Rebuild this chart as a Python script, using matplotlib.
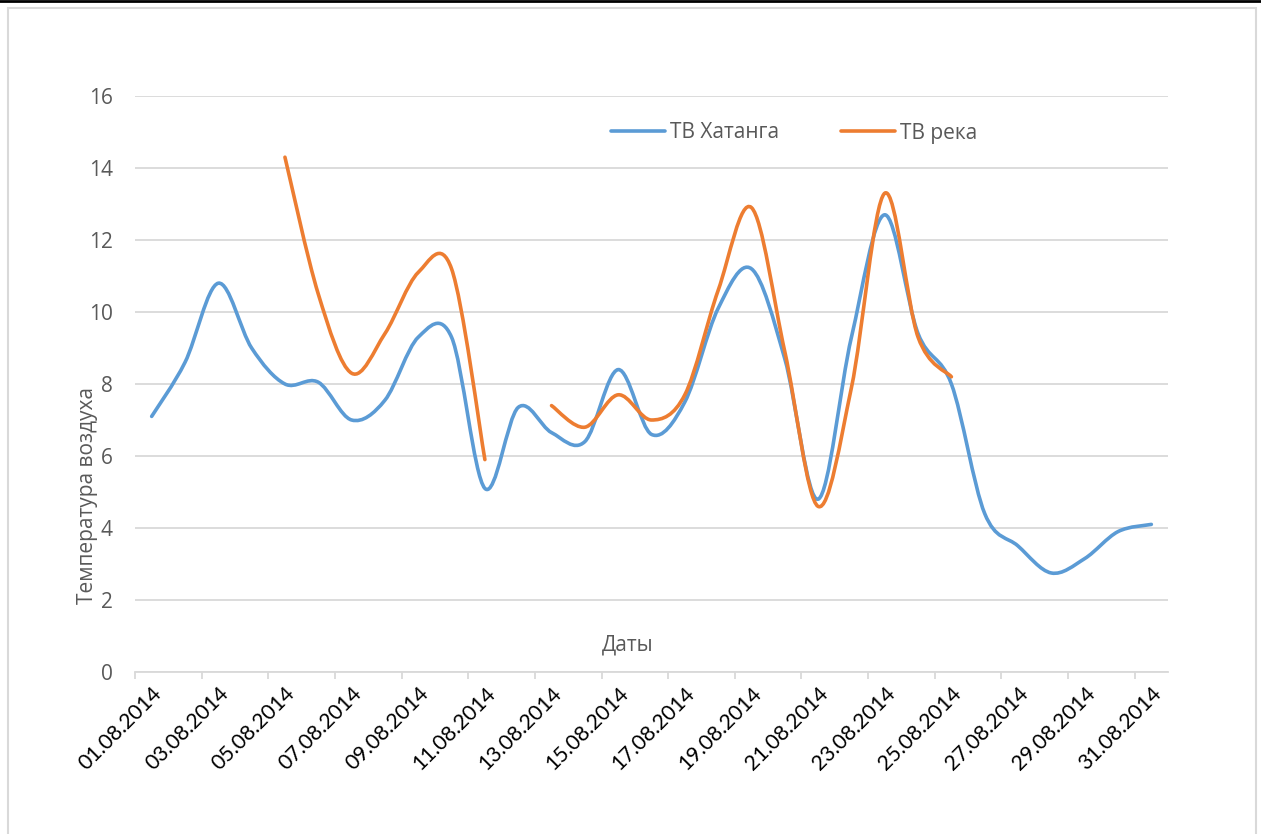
import matplotlib
matplotlib.use("Agg")
import matplotlib.pyplot as plt
from matplotlib.path import Path
from matplotlib.patches import PathPatch, Rectangle
from matplotlib.lines import Line2D
import numpy as np

# Даты: 01.08.2014 ... 31.08.2014
dates = ["%02d.08.2014" % d for d in range(1, 32)]

# температура воздуха, ТВ Хатанга
t_khatanga = [7.1, 8.6, 10.8, 9.0, 8.0, 8.05, 7.0, 7.55, 9.3, 9.3,
              5.1, 7.35, 6.65, 6.4, 8.4, 6.6, 7.5, 10.1, 11.2, 8.7,
              4.8, 9.3, 12.7, 9.4, 8.0, 4.4, 3.5, 2.75, 3.15, 3.9, 4.1]

# ТВ река (пропуски = None)
t_reka = [None, None, None, None, 14.3, 10.5, 8.3, 9.4, 11.1, 11.2,
          5.9, None, 7.4, 6.8, 7.7, 7.0, 7.7, 10.6, 12.9, 8.9,
          4.6, 7.9, 13.3, 9.3, 8.2, None, None, None, None, None, None]

BLUE = "#5B9BD5"
ORANGE = "#ED7D31"
GRID = "#D9D9D9"
GRAY = "#595959"


def smooth_paths(values):
    """сглаженная линия как в Excel: кубические Безье по отрезкам без пропусков"""
    runs, cur = [], []
    for i, v in enumerate(values):
        if v is None:
            if cur:
                runs.append(cur)
            cur = []
        else:
            cur.append((i, v))
    if cur:
        runs.append(cur)

    paths = []
    for run in runs:
        p = np.array(run, dtype=float)
        n = len(p)
        verts = [p[0]]
        codes = [Path.MOVETO]
        for k in range(n - 1):
            p0 = p[k - 1] if k > 0 else p[k]
            p1, p2 = p[k], p[k + 1]
            p3 = p[k + 2] if k + 2 < n else p[k + 1]
            c1 = p1 + (p2 - p0) / 6.0
            c2 = p2 - (p3 - p1) / 6.0
            verts += [c1, c2, p2]
            codes += [Path.CURVE4] * 3
        paths.append(Path(verts, codes))
    return paths


fig = plt.figure(figsize=(12.61, 8.34), dpi=100)
W, H = 1261, 834
ax = fig.add_axes([135 / W, 1 - 672 / H, (1168 - 135) / W, (672 - 96) / H])

x = np.arange(len(dates))
for vals, col in [(t_khatanga, BLUE), (t_reka, ORANGE)]:
    for path in smooth_paths(vals):
        ax.add_patch(PathPatch(path, facecolor="none", edgecolor=col,
                               lw=2.6, capstyle="round", joinstyle="round", zorder=3))

ax.set_xlim(-0.5, len(dates) - 0.5)
ax.set_ylim(0, 16)
ax.set_yticks(range(0, 17, 2))
ax.yaxis.grid(True, color=GRID, lw=1.3)
ax.set_axisbelow(True)
for s in ["top", "right", "left"]:
    ax.spines[s].set_visible(False)
ax.spines["bottom"].set_color(GRID)
ax.spines["bottom"].set_linewidth(1.3)

ax.set_xticks(x[::2])
ax.set_xticklabels(dates[::2], rotation=45, ha="right", va="top",
                   rotation_mode="anchor", fontsize=15.3, family="Lato", color="black")
ax.set_xticks(np.arange(-0.5, len(dates) - 1, 2), minor=True)
ax.tick_params(axis="x", which="major", length=0, pad=8)
ax.tick_params(axis="x", which="minor", length=5, color=GRID, width=1.3)
ax.tick_params(axis="y", length=0, pad=16, labelsize=15, labelcolor=GRAY)
for lab in ax.get_yticklabels():
    lab.set_family("Open Sans")

fig.text(87 / W, 1 - 495 / H, "Температура воздуха", rotation=90, ha="center",
         va="center", fontsize=15, color=GRAY, family="Open Sans")
fig.text(628 / W, 1 - 645 / H, "Даты", ha="center", va="center",
         fontsize=15, color=GRAY, family="Open Sans")

handles = [Line2D([], [], color=BLUE, lw=2.6, solid_capstyle="round"),
           Line2D([], [], color=ORANGE, lw=2.6, solid_capstyle="round")]
leg = fig.legend(handles, ["ТВ Хатанга", "ТВ река"], loc="center",
                 bbox_to_anchor=(794 / W, 1 - 133 / H), ncol=2, frameon=False,
                 handlelength=2.6, handletextpad=0.2, columnspacing=3.0,
                 prop={"family": "Open Sans", "size": 15})
for t in leg.get_texts():
    t.set_color(GRAY)

# рамка области диаграммы и линия сверху
fig.patches.append(Rectangle((7.5 / W, -0.01), (1256 - 7.5) / W, 1 - 7.5 / H + 0.01,
                             transform=fig.transFigure, fill=False,
                             edgecolor=GRID, lw=1.5))
fig.lines.append(Line2D([0, 1], [1 - 1 / H, 1 - 1 / H], transform=fig.transFigure,
                        color="black", lw=2))

fig.savefig("out.png", dpi=100, facecolor="white")
